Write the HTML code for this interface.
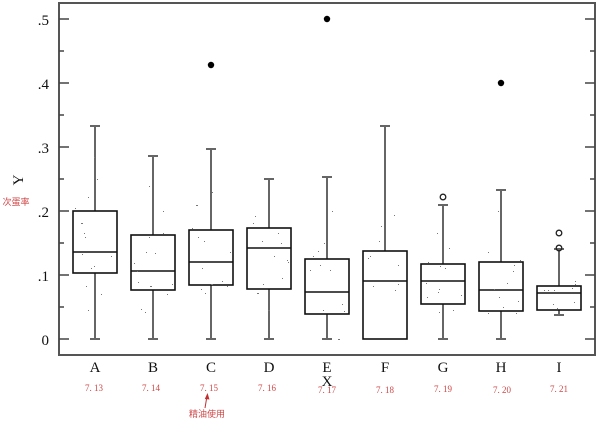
<!DOCTYPE html>
<html>
<head>
<meta charset="utf-8">
<style>
html,body{margin:0;padding:0;background:#fff;}
svg{display:block;}
.t{font-family:"Liberation Serif",serif;font-size:15px;fill:#111;}
.r{font-family:"Liberation Serif","Noto Serif CJK SC",serif;font-size:9px;fill:#d04848;}
.rc{font-family:"Liberation Sans","Noto Sans CJK SC",sans-serif;font-size:9px;fill:#d04848;}
</style>
</head>
<body>
<svg width="600" height="421" viewBox="0 0 600 421" xmlns="http://www.w3.org/2000/svg">
<rect width="600" height="421" fill="#fff"/>
<!-- frame -->
<g stroke="#555" stroke-width="2" fill="none">
<line x1="59" y1="3" x2="59" y2="356"/>
<line x1="58" y1="3" x2="596" y2="3"/>
<line x1="595" y1="3" x2="595" y2="356"/>
<line x1="58" y1="355" x2="596" y2="355"/>
</g>
<!-- left ticks -->
<g stroke="#444" stroke-width="1.5">
<line x1="59" y1="19" x2="69" y2="19"/>
<line x1="59" y1="83" x2="69" y2="83"/>
<line x1="59" y1="147" x2="69" y2="147"/>
<line x1="59" y1="211" x2="69" y2="211"/>
<line x1="59" y1="275" x2="69" y2="275"/>
<line x1="59" y1="339" x2="69" y2="339"/>
<line x1="59" y1="51" x2="64" y2="51"/>
<line x1="59" y1="115" x2="64" y2="115"/>
<line x1="59" y1="179" x2="64" y2="179"/>
<line x1="59" y1="243" x2="64" y2="243"/>
<line x1="59" y1="307" x2="64" y2="307"/>
<!-- right ticks -->
<line x1="585" y1="19" x2="595" y2="19"/>
<line x1="585" y1="83" x2="595" y2="83"/>
<line x1="585" y1="147" x2="595" y2="147"/>
<line x1="585" y1="211" x2="595" y2="211"/>
<line x1="585" y1="275" x2="595" y2="275"/>
<line x1="585" y1="339" x2="595" y2="339"/>
<line x1="590" y1="51" x2="595" y2="51"/>
<line x1="590" y1="115" x2="595" y2="115"/>
<line x1="590" y1="179" x2="595" y2="179"/>
<line x1="590" y1="243" x2="595" y2="243"/>
<line x1="590" y1="307" x2="595" y2="307"/>
</g>
<!-- y tick labels -->
<g class="t" text-anchor="end">
<text x="49" y="25">.5</text>
<text x="49" y="89">.4</text>
<text x="49" y="153">.3</text>
<text x="49" y="217">.2</text>
<text x="49" y="281">.1</text>
<text x="49" y="345">0</text>
</g>
<text class="t" transform="translate(23,180) rotate(-90)" text-anchor="middle">Y</text>
<text class="rc" x="16" y="205" text-anchor="middle">次蛋率</text>

<!-- whiskers -->
<g stroke="#666" stroke-width="2" fill="none">
<!-- A -->
<line x1="95" y1="126" x2="95" y2="211"/><line x1="95" y1="273" x2="95" y2="339"/>
<line x1="90" y1="126" x2="100" y2="126"/><line x1="90" y1="339" x2="100" y2="339"/>
<!-- B -->
<line x1="153" y1="156" x2="153" y2="235"/><line x1="153" y1="290" x2="153" y2="339"/>
<line x1="148" y1="156" x2="158" y2="156"/><line x1="148" y1="339" x2="158" y2="339"/>
<!-- C -->
<line x1="211" y1="149" x2="211" y2="230"/><line x1="211" y1="285" x2="211" y2="339"/>
<line x1="206" y1="149" x2="216" y2="149"/><line x1="206" y1="339" x2="216" y2="339"/>
<!-- D -->
<line x1="269" y1="179" x2="269" y2="228"/><line x1="269" y1="289" x2="269" y2="339"/>
<line x1="264" y1="179" x2="274" y2="179"/><line x1="264" y1="339" x2="274" y2="339"/>
<!-- E -->
<line x1="327" y1="177" x2="327" y2="259"/><line x1="327" y1="314" x2="327" y2="339"/>
<line x1="322" y1="177" x2="332" y2="177"/><line x1="322" y1="339" x2="332" y2="339"/>
<!-- F -->
<line x1="385" y1="126" x2="385" y2="251"/>
<line x1="380" y1="126" x2="390" y2="126"/>
<!-- G -->
<line x1="443" y1="205" x2="443" y2="264"/><line x1="443" y1="304" x2="443" y2="339"/>
<line x1="438" y1="205" x2="448" y2="205"/><line x1="438" y1="339" x2="448" y2="339"/>
<!-- H -->
<line x1="501" y1="190" x2="501" y2="262"/><line x1="501" y1="311" x2="501" y2="339"/>
<line x1="496" y1="190" x2="506" y2="190"/><line x1="496" y1="339" x2="506" y2="339"/>
<!-- I -->
<line x1="559" y1="249" x2="559" y2="286"/><line x1="559" y1="310" x2="559" y2="315"/>
<line x1="554" y1="249" x2="564" y2="249"/><line x1="554" y1="315" x2="564" y2="315"/>
</g>

<!-- boxes -->
<g stroke="#111" stroke-width="1.6" fill="none">
<rect x="73" y="211" width="44" height="62"/><line x1="73" y1="252" x2="117" y2="252"/>
<rect x="131" y="235" width="44" height="55"/><line x1="131" y1="271" x2="175" y2="271"/>
<rect x="189" y="230" width="44" height="55"/><line x1="189" y1="262" x2="233" y2="262"/>
<rect x="247" y="228" width="44" height="61"/><line x1="247" y1="248" x2="291" y2="248"/>
<rect x="305" y="259" width="44" height="55"/><line x1="305" y1="292" x2="349" y2="292"/>
<rect x="363" y="251" width="44" height="88"/><line x1="363" y1="281" x2="407" y2="281"/>
<rect x="421" y="264" width="44" height="40"/><line x1="421" y1="281" x2="465" y2="281"/>
<rect x="479" y="262" width="44" height="49"/><line x1="479" y1="290" x2="523" y2="290"/>
<rect x="537" y="286" width="44" height="24"/><line x1="537" y1="293" x2="581" y2="293"/>
</g>

<!-- outliers -->
<circle cx="211" cy="65" r="3.2" fill="#000"/>
<circle cx="327" cy="19" r="3.2" fill="#000"/>
<circle cx="501" cy="83" r="3.2" fill="#000"/>
<g fill="none" stroke="#222" stroke-width="1.3">
<circle cx="443" cy="197" r="2.8"/>
<circle cx="559" cy="233" r="2.8"/>
<circle cx="559" cy="248" r="2.8"/>
</g>

<!-- scattered points -->
<g fill="#777">
<rect x="94" y="157" width="1" height="1"/><rect x="97" y="179" width="1" height="1"/><rect x="88" y="197" width="1" height="1"/>
<rect x="81" y="223" width="2" height="1"/><rect x="84" y="233" width="1" height="1"/><rect x="85" y="237" width="1" height="1"/>
<rect x="82" y="254" width="1" height="1"/><rect x="111" y="256" width="1" height="1"/><rect x="91" y="268" width="1" height="1"/>
<rect x="94" y="266" width="1" height="1"/><rect x="86" y="286" width="1" height="1"/><rect x="101" y="294" width="1" height="1"/>
<rect x="88" y="310" width="1" height="1"/><rect x="75" y="208" width="1" height="1"/>
<rect x="149" y="186" width="1" height="1"/><rect x="163" y="211" width="1" height="1"/><rect x="163" y="233" width="1" height="1"/>
<rect x="149" y="237" width="1" height="1"/><rect x="146" y="252" width="1" height="1"/><rect x="155" y="253" width="1" height="1"/>
<rect x="134" y="263" width="1" height="1"/><rect x="137" y="271" width="1" height="1"/><rect x="138" y="282" width="1" height="1"/>
<rect x="150" y="286" width="2" height="1"/><rect x="172" y="284" width="1" height="1"/><rect x="167" y="294" width="1" height="1"/>
<rect x="141" y="309" width="1" height="1"/><rect x="145" y="312" width="1" height="1"/>
<rect x="196" y="205" width="2" height="1"/><rect x="212" y="192" width="1" height="1"/><rect x="192" y="228" width="1" height="1"/>
<rect x="198" y="237" width="1" height="1"/><rect x="204" y="241" width="1" height="1"/><rect x="230" y="252" width="1" height="1"/>
<rect x="202" y="268" width="1" height="1"/><rect x="211" y="284" width="2" height="1"/><rect x="222" y="281" width="1" height="1"/>
<rect x="205" y="293" width="1" height="1"/><rect x="201" y="289" width="1" height="1"/><rect x="227" y="286" width="1" height="1"/>
<rect x="255" y="216" width="1" height="1"/><rect x="253" y="223" width="1" height="1"/><rect x="262" y="241" width="1" height="1"/>
<rect x="278" y="233" width="1" height="1"/><rect x="281" y="243" width="1" height="1"/><rect x="274" y="256" width="1" height="1"/>
<rect x="287" y="260" width="1" height="1"/><rect x="288" y="262" width="1" height="1"/><rect x="282" y="278" width="1" height="1"/>
<rect x="263" y="284" width="1" height="1"/><rect x="257" y="293" width="2" height="1"/><rect x="268" y="310" width="2" height="1"/>
<rect x="332" y="211" width="1" height="1"/><rect x="324" y="243" width="1" height="1"/><rect x="318" y="251" width="1" height="1"/>
<rect x="313" y="256" width="1" height="1"/><rect x="320" y="265" width="1" height="1"/><rect x="310" y="270" width="1" height="1"/>
<rect x="330" y="270" width="1" height="1"/><rect x="342" y="304" width="1" height="1"/><rect x="323" y="310" width="1" height="1"/>
<rect x="344" y="311" width="1" height="1"/><rect x="338" y="339" width="2" height="1"/>
<rect x="394" y="215" width="1" height="1"/><rect x="381" y="226" width="1" height="1"/><rect x="379" y="241" width="1" height="1"/>
<rect x="370" y="256" width="1" height="1"/><rect x="368" y="258" width="1" height="1"/><rect x="398" y="265" width="1" height="1"/>
<rect x="373" y="286" width="1" height="1"/><rect x="398" y="284" width="1" height="1"/><rect x="395" y="290" width="1" height="1"/>
<rect x="437" y="233" width="1" height="1"/><rect x="449" y="248" width="1" height="1"/><rect x="428" y="262" width="1" height="1"/>
<rect x="440" y="266" width="1" height="1"/><rect x="445" y="268" width="1" height="1"/><rect x="426" y="283" width="1" height="1"/>
<rect x="439" y="289" width="1" height="1"/><rect x="438" y="292" width="1" height="1"/><rect x="427" y="297" width="1" height="1"/>
<rect x="461" y="295" width="1" height="1"/><rect x="439" y="312" width="1" height="1"/><rect x="453" y="310" width="1" height="1"/>
<rect x="498" y="211" width="1" height="1"/><rect x="488" y="252" width="1" height="1"/><rect x="520" y="260" width="1" height="1"/>
<rect x="514" y="265" width="1" height="1"/><rect x="513" y="271" width="1" height="1"/><rect x="507" y="283" width="1" height="1"/>
<rect x="494" y="289" width="1" height="1"/><rect x="499" y="297" width="1" height="1"/><rect x="518" y="301" width="1" height="1"/>
<rect x="503" y="307" width="1" height="1"/><rect x="488" y="313" width="1" height="1"/><rect x="516" y="313" width="1" height="1"/>
<rect x="575" y="281" width="1" height="1"/><rect x="575" y="284" width="1" height="1"/><rect x="544" y="290" width="1" height="1"/>
<rect x="548" y="290" width="1" height="1"/><rect x="554" y="290" width="1" height="1"/><rect x="572" y="288" width="1" height="1"/>
<rect x="574" y="302" width="1" height="1"/><rect x="553" y="304" width="1" height="1"/><rect x="557" y="308" width="1" height="1"/>
</g>

<!-- x labels -->
<g class="t" text-anchor="middle">
<text x="95" y="372">A</text>
<text x="153" y="372">B</text>
<text x="211" y="372">C</text>
<text x="269" y="372">D</text>
<text x="327" y="372">E</text>
<text x="385" y="372">F</text>
<text x="443" y="372">G</text>
<text x="501" y="372">H</text>
<text x="559" y="372">I</text>
<text x="327" y="386">X</text>
</g>
<g class="r" text-anchor="middle">
<text x="94" y="391">7. 13</text>
<text x="151" y="391">7. 14</text>
<text x="209" y="391">7. 15</text>
<text x="267" y="391">7. 16</text>
<text x="327" y="393">7. 17</text>
<text x="385" y="393">7. 18</text>
<text x="443" y="392">7. 19</text>
<text x="502" y="393">7. 20</text>
<text x="559" y="392">7. 21</text>
</g>
<!-- arrow -->
<line x1="205" y1="408" x2="207" y2="396" stroke="#c03030" stroke-width="1"/>
<polygon points="207.5,393 204.8,399 209.5,399.5" fill="#c03030"/>
<text class="rc" x="207" y="417" text-anchor="middle">精油使用</text>
</svg>
</body>
</html>
